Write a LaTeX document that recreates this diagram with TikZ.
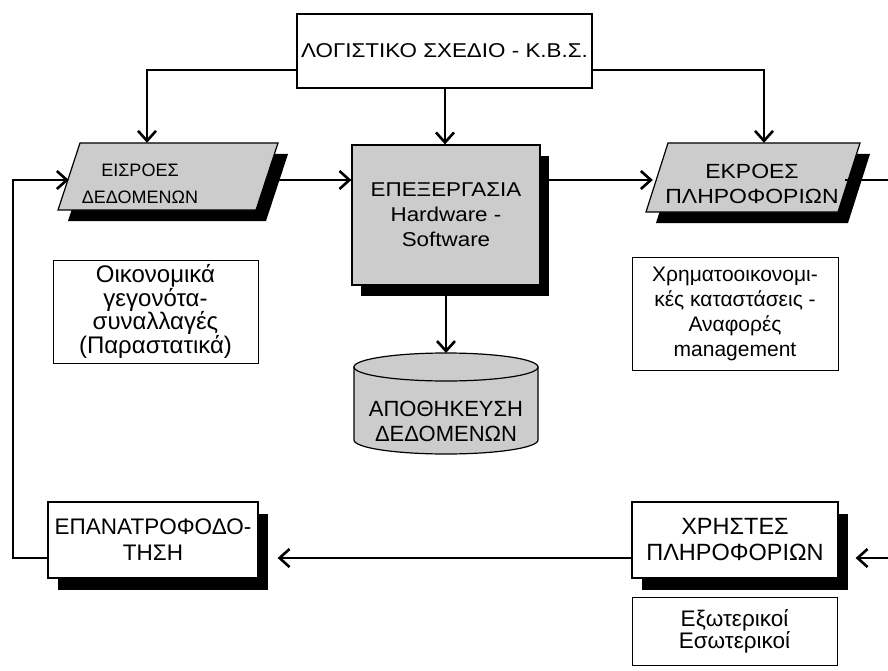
\documentclass[tikz,border=0pt]{standalone}
\usepackage{fontspec}
\setmainfont{Liberation Sans}
\newfontfamily\widefont[FakeStretch=1.12]{Liberation Sans}
\usetikzlibrary{arrows.meta}
\begin{document}
\begin{tikzpicture}[x=1pt,y=-1pt,
  conn/.style={line width=2.8pt, -{Straight Barb[length=10pt,width=18pt,line width=2.6pt]}},
  plain/.style={line width=2.8pt},
  box/.style={draw, line width=1.2pt, fill=white, align=center, inner sep=0pt},
  gbox/.style={box, fill=gray!40},
  shade/.style={fill=black},
  gshape/.style={draw, line width=1.2pt, fill=gray!40},
  lbl/.style={align=center, inner sep=0pt}]
\clip (0,0) rectangle (888,671);
\fill[white] (0,0) rectangle (888,671);

% top box
\node[box, minimum width=295pt, minimum height=74pt, font=\widefont\fontsize{20}{24}\selectfont] (top) at (444.5,51) {ΛΟΓΙΣΤΙΚΟ ΣΧΕΔΙΟ - Κ.Β.Σ.};

% left parallelogram (input)
\fill[shade] (90,154) -- (288,154) -- (266,221) -- (68,221) -- cycle;
\path[gshape] (80,143) -- (278,143) -- (256,210) -- (58,210) -- cycle;
\coordinate (pinc) at (168,176.5);
\node[lbl, minimum width=198pt, minimum height=67pt] (pin) at (pinc) {};
\node[lbl, font=\fontsize{18}{27}\selectfont] (pintext) at (140,184) {ΕΙΣΡΟΕΣ\\ΔΕΔΟΜΕΝΩΝ};

% centre process box
\fill[shade] (361,156) rectangle (549,296);
\node[gbox, minimum width=188pt, minimum height=140pt, font=\widefont\fontsize{20}{25}\selectfont] (proc) at (446,215) {ΕΠΕΞΕΡΓΑΣΙΑ\\Hardware -\\Software};

% right parallelogram (output)
\fill[shade] (678,154) -- (870,154) -- (848,223) -- (656,223) -- cycle;
\path[gshape] (668,143) -- (860,143) -- (838,212) -- (646,212) -- cycle;
\node[lbl, minimum width=192pt, minimum height=69pt] (pout) at (753,177.5) {};
\node[lbl, font=\widefont\fontsize{20.5}{25}\selectfont] (pouttext) at (752,184) {ΕΚΡΟΕΣ\\ΠΛΗΡΟΦΟΡΙΩΝ};

% text boxes under the parallelograms
\node[box, line width=1pt, minimum width=205pt, minimum height=103pt, font=\fontsize{24}{23.5}\selectfont] (inbox) at (155.5,311.5) {Οικονομικά\\γεγονότα-\\συναλλαγές\\(Παραστατικά)};
\node[box, line width=1pt, minimum width=206pt, minimum height=113pt, font=\fontsize{21}{25}\selectfont] (outbox) at (735,313.5) {Χρηματοοικονομι-\\κές καταστάσεις -\\Αναφορές\\management};

% cylinder (storage)
\path[gshape] (354,367) -- (354,440) arc[start angle=180, end angle=360, x radius=92pt, y radius=14pt] -- (538,367) -- cycle;
\path[gshape] (446,367) ellipse [x radius=92pt, y radius=14pt];
\coordinate (storetop) at (446,353);
\node[lbl, font=\fontsize{22}{25}\selectfont] (store) at (446,421) {ΑΠΟΘΗΚΕΥΣΗ\\ΔΕΔΟΜΕΝΩΝ};

% feedback box
\fill[shade] (58,514) rectangle (268,590);
\node[box, minimum width=210pt, minimum height=76pt, font=\fontsize{22.5}{26}\selectfont] (fb) at (153,540) {ΕΠΑΝΑΤΡΟΦΟΔΟ-\\ΤΗΣΗ};

% users box
\fill[shade] (642,514) rectangle (848,590);
\node[box, minimum width=206pt, minimum height=76pt, font=\fontsize{23.5}{26}\selectfont] (users) at (735,540) {ΧΡΗΣΤΕΣ\\ΠΛΗΡΟΦΟΡΙΩΝ};

% users detail box
\node[box, line width=1pt, minimum width=205pt, minimum height=68pt, font=\fontsize{22.5}{22}\selectfont] (ubox) at (734.5,631) {Εξωτερικοί\\Εσωτερικοί};

% connector helper points
\coordinate (lp1) at (13,558);
\coordinate (lp2) at (13,180);
\coordinate (rp1) at (900,180);
\coordinate (rp2) at (900,558);

% connectors
\draw[conn] (top.west |- 0,70) -| (pin.north -| 147,0);
\draw[conn] (top.east |- 0,70) -| (pout.north -| 764,0);
\draw[conn] (top.south -| 445,0) -- (proc.north -| 445,0);
\draw[conn] (pin.east |- 0,180) -- (proc.west |- 0,180);
\draw[conn] (proc.east |- 0,180) -- ([xshift=-4pt]pout.west |- 0,180);
\draw[plain] ([xshift=-4pt]pout.east |- 0,180) -- (rp1) -- (rp2);
\draw[conn] (rp2) -- ([xshift=17pt]users.east |- 0,558);
\draw[conn] (users.west |- 0,558) -- ([xshift=19pt]fb.east |- 0,558);
\draw[conn] (fb.west |- 0,558) -- (lp1) -- (lp2) -- (pin.west |- 0,180);
\draw[conn] (proc.south -| 446,0) -- (storetop);
\end{tikzpicture}
\end{document}
